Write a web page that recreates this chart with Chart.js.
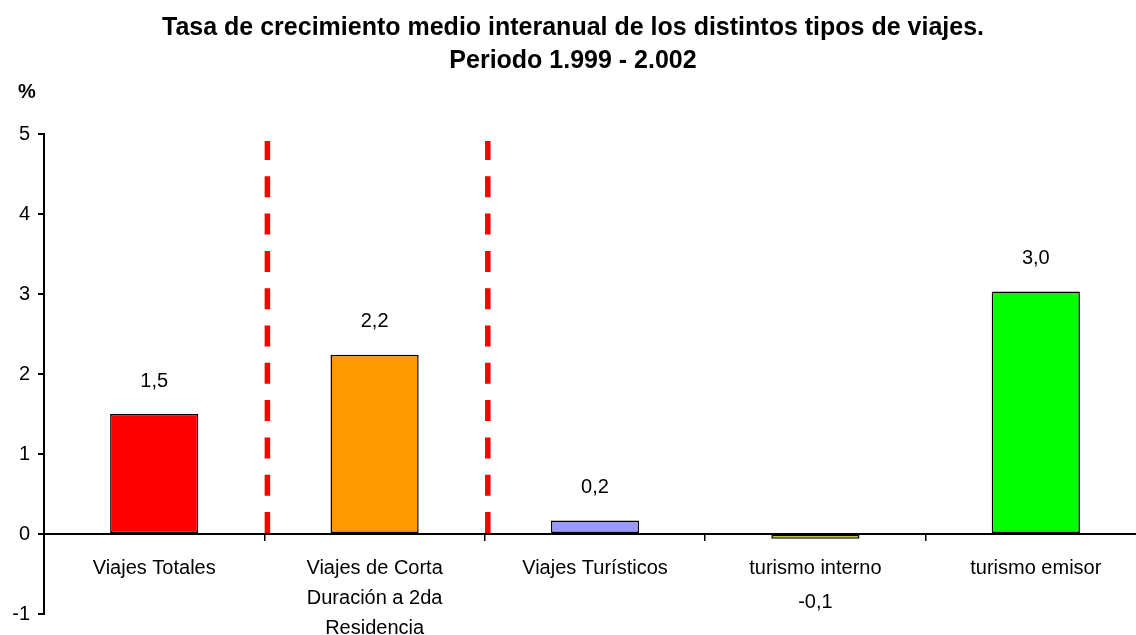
<!DOCTYPE html>
<html>
<head>
<meta charset="utf-8">
<script src="https://cdn.jsdelivr.net/npm/chart.js@4.4.0/dist/chart.umd.min.js"></script>
<style>
    html, body { margin: 0; padding: 0; background: #fff; overflow: hidden; }
    #wrap { width: 1146px; height: 635px; }
</style>
</head>
<body>
<div id="wrap"><canvas id="growthChart"></canvas></div>
<script>
const categories = [
    'Viajes Totales',
    ['Viajes de Corta', 'Duración a 2da', 'Residencia'],
    'Viajes Turísticos',
    'turismo interno',
    'turismo emisor'
];
const growthRates = [1.5, 2.24, 0.17, -0.06, 3.03];
const barColors = ['#ff0000', '#ff9900', '#9999ff', '#ffff00', '#00ff00'];
const yTicks = [-1, 0, 1, 2, 3, 4, 5];
const separatorsAfter = [0, 1];

const FONT = '"Liberation Sans", Arial, sans-serif';
Chart.defaults.font.family = FONT;
Chart.defaults.color = '#000';

// value labels above / below each bar
const valueLabels = {
    id: 'valueLabels',
    afterDatasetsDraw(chart) {
        const ctx = chart.ctx;
        const meta = chart.getDatasetMeta(0);
        ctx.save();
        ctx.font = '20px ' + FONT;
        ctx.fillStyle = '#000';
        ctx.textAlign = 'center';
        ctx.textBaseline = 'middle';
        meta.data.forEach((bar, i) => {
            const v = growthRates[i];
            const text = v.toFixed(1).replace('.', ',');
            const y = v < 0 ? bar.y + 64 : bar.y - 33;
            ctx.fillText(text, bar.x, y);
        });
        ctx.restore();
    }
};

// red dashed separators + "%" unit label
const extras = {
    id: 'extras',
    afterDatasetsDraw(chart) {
        const ctx = chart.ctx;
        const x = chart.scales.x;
        const y = chart.scales.y;
        const area = chart.chartArea;
        ctx.save();
        ctx.strokeStyle = '#ff0000';
        ctx.lineWidth = 5.5;
        ctx.setLineDash([21, 16.3]);
        separatorsAfter.forEach(i => {
            const px = (x.getPixelForValue(i) + x.getPixelForValue(i + 1)) / 2 + 3;
            ctx.beginPath();
            ctx.moveTo(px, y.getPixelForValue(0) - 1);
            ctx.lineTo(px, area.top + 7);
            ctx.stroke();
        });
        ctx.setLineDash([]);
        ctx.font = 'bold 20px ' + FONT;
        ctx.fillStyle = '#000';
        ctx.textAlign = 'center';
        ctx.textBaseline = 'middle';
        ctx.fillText('%', area.left - 17, area.top - 42);
        ctx.restore();
    }
};

new Chart(document.getElementById('growthChart'), {
    type: 'bar',
    data: {
        labels: categories,
        datasets: [{
            data: growthRates,
            backgroundColor: barColors,
            borderColor: '#000',
            borderWidth: 1.5,
            borderSkipped: false,
            barPercentage: 0.4,
            categoryPercentage: 1
        }]
    },
    options: {
        responsive: true,
        maintainAspectRatio: false,
        animation: false,
        layout: { padding: { left: 0, right: 0, top: 0, bottom: 21 } },
        plugins: {
            legend: { display: false },
            tooltip: { enabled: false },
            title: {
                display: true,
                text: [
                    'Tasa de crecimiento medio interanual de los distintos tipos de viajes.',
                    'Periodo 1.999 - 2.002'
                ],
                font: { size: 25, weight: 'bold', lineHeight: 1.32 },
                color: '#000',
                padding: { top: 12, bottom: 56 }
            }
        },
        scales: {
            x: {
                position: { y: 0 },
                offset: true,
                grid: {
                    offset: true,
                    drawOnChartArea: false,
                    drawTicks: true,
                    tickLength: 6,
                    color: '#000',
                    lineWidth: 1.5
                },
                border: { color: '#000', width: 2 },
                ticks: {
                    font: { size: 20, lineHeight: 1.5 },
                    padding: 13,
                    maxRotation: 0,
                    autoSkip: false
                }
            },
            y: {
                min: yTicks[0],
                max: yTicks[yTicks.length - 1],
                afterBuildTicks(scale) {
                    scale.ticks = yTicks.map(v => ({ value: v }));
                },
                afterFit(scale) {
                    scale.width = 44;
                },
                grid: {
                    drawOnChartArea: false,
                    drawTicks: true,
                    tickLength: 6,
                    color: '#000',
                    lineWidth: 2
                },
                border: { color: '#000', width: 2 },
                ticks: {
                    font: { size: 20 },
                    padding: 8
                }
            }
        }
    },
    plugins: [valueLabels, extras]
});
</script>
</body>
</html>
